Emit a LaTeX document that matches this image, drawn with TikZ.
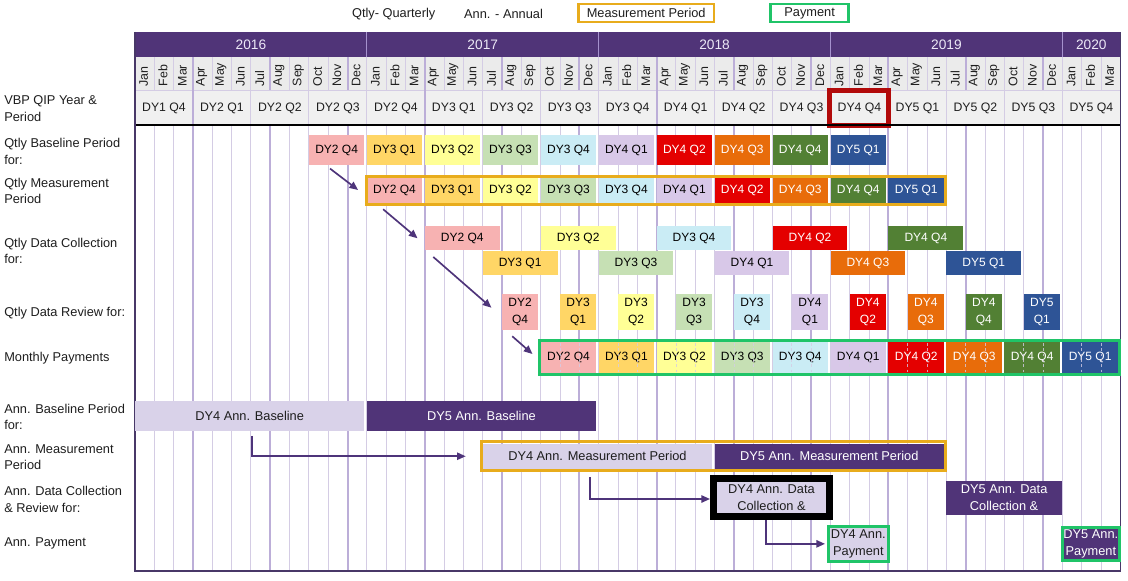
\documentclass[tikz,border=0pt]{standalone}
\usepackage{fontspec}
\setmainfont{Liberation Sans}
\usetikzlibrary{calc,arrows.meta}
\definecolor{hdr}{RGB}{80,52,120}
\definecolor{hdrtext}{RGB}{236,232,246}
\definecolor{yearsep}{RGB}{165,145,205}
\definecolor{monthbg}{RGB}{235,235,235}
\definecolor{vbpbg}{RGB}{240,240,240}
\definecolor{gridc}{RGB}{212,204,228}
\definecolor{gridk}{RGB}{188,174,216}
\definecolor{bordc}{RGB}{72,56,104}
\definecolor{labelc}{RGB}{30,30,30}
\definecolor{arrowc}{RGB}{78,52,122}
\definecolor{goldc}{RGB}{232,172,28}
\definecolor{greenc}{RGB}{32,196,104}
\definecolor{hlc}{RGB}{178,10,10}
\definecolor{annl}{RGB}{217,210,233}
\definecolor{annd}{RGB}{80,52,120}
\definecolor{q24}{RGB}{247,178,178}
\definecolor{q31}{RGB}{255,214,102}
\definecolor{q32}{RGB}{255,255,150}
\definecolor{q33}{RGB}{198,224,180}
\definecolor{q34}{RGB}{202,236,245}
\definecolor{q41}{RGB}{216,200,232}
\definecolor{q42}{RGB}{228,0,0}
\definecolor{q43}{RGB}{232,108,10}
\definecolor{q44}{RGB}{82,128,52}
\definecolor{q51}{RGB}{46,84,150}
\newcommand\boxfont{\fontsize{9}{12.4}\selectfont}
\newcommand\annfont{\fontsize{9.6}{12.5}\selectfont}
\newcommand\lblfont{\fontsize{9.6}{12.5}\selectfont}
\newcommand\vbpfont{\fontsize{9.2}{11}\selectfont}
\newcommand\monfont{\fontsize{9.3}{10}\selectfont}
\newcommand\yrfont{\fontsize{10.3}{12}\selectfont}
\newcommand\mx[1]{135+19.32*(#1)}
% name m1 m2 ytop ybot fill textcolor font text
\newcommand\gbx[9]{%
  \node[rectangle,align=center,inner sep=0pt,fill=#6,text=#7,font=#8,
    minimum width={(19.32*((#3)-(#2))-2.5)*0.75pt},
    minimum height={((#5)-(#4))*0.75pt}]
    (#1) at ({135+19.32*((#2)+(#3))/2-1.25},{((#4)+(#5))/2}) {#9};}
\begin{document}
\begin{tikzpicture}[x=0.75pt,y=-0.75pt,
  lbl/.style={anchor=west,align=left,inner sep=0pt,font=\lblfont,text=labelc},
  arr/.style={draw=arrowc,line width=1.25pt,-{Triangle[length=6.5pt,width=5.5pt]}},
  frame/.style={rectangle,align=center,inner sep=0pt,font=\annfont},
]
\useasboundingbox (0,0) rectangle (1128,581);
\fill[white] (0,0) rectangle (1128,581);

% header fills
\fill[hdr] (135,32) rectangle ({\mx{51}},57);
\fill[monthbg] (135,57) rectangle ({\mx{51}},90);
\fill[vbpbg] (135,90) rectangle ({\mx{51}},125);
\draw[gridc,line width=0.6pt] (135,90) -- ({\mx{51}},90);

% grid lines
\foreach \i in {1,...,50}{
  \pgfmathtruncatemacro\rr{mod(\i,4)}
  \pgfmathtruncatemacro\ss{mod(\i,3)}
  \ifnum\rr=3 \def\gc{gridk}\def\gw{1.5pt}\else\def\gc{gridc}\def\gw{0.75pt}\fi
  \draw[draw=\gc,line width=\gw] ({\mx{\i}},57) -- ({\mx{\i}},90);
  \draw[draw=\gc,line width=\gw] ({\mx{\i}},125) -- ({\mx{\i}},571);
  \ifnum\ss=0 \draw[draw=\gc,line width=\gw] ({\mx{\i}},90) -- ({\mx{\i}},125);\fi
}
\foreach \i in {12,24,36,48}
  \draw[yearsep,line width=0.75pt] ({\mx{\i}},32) -- ({\mx{\i}},57);

% years
\foreach \y/\a/\b in {2016/0/12,2017/12/24,2018/24/36,2019/36/48,2020/48/51}
  \node[font=\yrfont,text=hdrtext,inner sep=0pt] (yr\y) at ({\mx{(\a+\b)/2}},45) {\y};

% months
\foreach \yy in {0,...,4}{
  \foreach \mn [count=\j from 0] in {Jan,Feb,Mar,Apr,May,Jun,Jul,Aug,Sep,Oct,Nov,Dec}{
    \pgfmathtruncatemacro\idx{12*\yy+\j}
    \ifnum\idx<51
      \node[rotate=90,anchor=west,inner sep=0pt,font=\monfont,text=labelc] (mo\idx) at ({\mx{\idx+0.45}},86.5) {\mn};
    \fi
  }}

% VBP row
\foreach \lab [count=\k from 0] in {DY1 Q4,DY2 Q1,DY2 Q2,DY2 Q3,DY2 Q4,DY3 Q1,DY3 Q2,DY3 Q3,DY3 Q4,DY4 Q1,DY4 Q2,DY4 Q3,DY4 Q4,DY5 Q1,DY5 Q2,DY5 Q3,DY5 Q4}
  \node[font=\vbpfont,text=labelc,inner sep=0pt] (v\k) at ({\mx{3*\k+1.5}},108) {\lab};
\draw[hlc,line width=3.75pt] ({\mx{36}-1},90.5) rectangle ({\mx{39}+0.5},125.7);

% borders
\draw[black,line width=0.9pt] (135,125) -- ({\mx{51}},125);
\draw[bordc,line width=0.9pt] (135,32) -- (135,571) -- ({\mx{51}},571) -- ({\mx{51}},32);

% quarterly boxes
\foreach \qc/\tc/\qd/\qq [count=\n from 0] in {q24/black/2/4,q31/black/3/1,q32/black/3/2,q33/black/3/3,q34/black/3/4,q41/black/4/1,q42/white/4/2,q43/white/4/3,q44/white/4/4,q51/white/5/1}{
  \gbx{b\n}{9+3*\n}{12+3*\n}{135}{165}{\qc}{\tc}{\boxfont}{DY\qd\ Q\qq}
  \gbx{m\n}{12+3*\n}{15+3*\n}{178}{203}{\qc}{\tc}{\boxfont}{DY\qd\ Q\qq}
  \pgfmathtruncatemacro\pty{mod(\n,2)}
  \ifnum\pty=0 \def\ya{226}\else\def\ya{251}\fi
  \gbx{c\n}{15+3*\n}{19+3*\n}{\ya}{\ya+24}{\qc}{\tc}{\boxfont}{DY\qd\ Q\qq}
  \gbx{r\n}{19+3*\n}{21+3*\n}{294}{330}{\qc}{\tc}{\boxfont}{DY\qd\\Q\qq}
  \gbx{p\n}{21+3*\n}{24+3*\n}{342}{373}{\qc}{\tc}{\boxfont}{DY\qd\ Q\qq}
}
% dashed grid through payments
\foreach \i in {22,...,50}{
  \pgfmathtruncatemacro\ss{mod(\i,3)}
  \ifnum\ss>0 \draw[gridc,dash pattern=on 2pt off 2pt,line width=0.6pt,opacity=0.8] ({\mx{\i}},343) -- ({\mx{\i}},372);\fi
}
\draw[goldc,line width=2.25pt] (366.5,176.5) rectangle (945.8,204.5);
\draw[greenc,line width=2.25pt] (539.8,340.8) rectangle (1119.2,374.2);

% annual boxes
\gbx{ab4}{0}{12}{401}{431}{annl}{labelc}{\annfont}{DY4 Ann. Baseline}
\gbx{ab5}{12}{24}{401}{431}{annd}{white}{\annfont}{DY5 Ann. Baseline}
\gbx{am4}{18}{30}{443.5}{469}{annl}{labelc}{\annfont}{DY4 Ann. Measurement Period}
\gbx{am5}{30}{42}{443.5}{469}{annd}{white}{\annfont}{DY5 Ann. Measurement Period}
\draw[goldc,line width=2.25pt] (481.8,441.5) rectangle (945.8,470.2);
\node[frame,fill=annl,text=labelc,draw=black,line width=5.25pt,
  minimum width={116*0.75pt},minimum height={38*0.75pt}] (ad4) at (771.5,497.5) {DY4 Ann. Data\\Collection \&};
\gbx{ad5}{42}{48.1}{481}{514.5}{annd}{white}{\annfont}{DY5 Ann. Data\\Collection \&}
\node[frame,fill=annl,text=labelc,draw=greenc,line width=2.25pt,
  minimum width={60.3*0.75pt},minimum height={34.7*0.75pt}] (ap4) at (858.35,543.85) {DY4 Ann.\\Payment};
\node[frame,fill=annd,text=white,draw=greenc,line width=2.25pt,
  minimum width={56.7*0.75pt},minimum height={33.6*0.75pt}] (ap5) at (1090.85,544) {DY5 Ann.\\Payment};

% arrows
\draw[arr] ($(b0.south)+(-6.6,3.3)$) -- ($(m0.west)+(-8.5,-0.5)$);
\draw[arr] ($(m0.south)+(-11.4,6)$) -- ($(c0.west)+(-7,0.3)$);
\draw[arr] ($(c0.south)+(-28.9,6.7)$) -- ($(r0.west)+(-10.4,-4.3)$);
\draw[arr] ($(r0.south)+(-7.9,6)$) -- ($(p0.west)+(-8,-3.5)$);
\draw[arr] ($(ab4.south)+(2,4.7)$) |- ($(am4.west)+(-16.8,0)$);
\draw[arr] ($(am4.south)+(-7.5,8)$) |- ($(ad4.west)+(0,1.5)$);
\draw[arr] ($(ad4.south)+(-5.5,0)$) |- ($(ap4.west)+(-1.7,0)$);

% left labels
\node[lbl] (l0) at (4,108.3) {VBP QIP Year \&\\Period};
\node[lbl] (l1) at (4,151.3) {Qtly Baseline Period\\for:};
\node[lbl] (l2) at (4,191) {Qtly Measurement\\Period};
\node[lbl] (l3) at (4,251) {Qtly Data Collection\\for:};
\node[lbl] (l4) at (4,312.7) {Qtly Data Review for:};
\node[lbl] (l5) at (4,358.3) {Monthly Payments};
\node[lbl] (l6) at (4,417) {Ann. Baseline Period\\for:};
\node[lbl] (l7) at (4,457.3) {Ann. Measurement\\Period};
\node[lbl] (l8) at (4,499.2) {Ann. Data Collection\\\& Review for:};
\node[lbl] (l9) at (4,543.3) {Ann. Payment};

% legend
\node[font=\lblfont,text=labelc,inner sep=0pt] (lq) at (393.7,14) {Qtly- Quarterly};
\node[font=\lblfont,text=labelc,inner sep=0pt] (la) at (503.5,14) {Ann. - Annual};
\node[frame,font=\lblfont,text=labelc,draw=goldc,line width=1.9pt,
  minimum width={135.2*0.75pt},minimum height={18*0.75pt}] (lm) at (646.2,13) {Measurement Period};
\node[frame,font=\lblfont,text=labelc,draw=greenc,line width=1.9pt,
  minimum width={78.1*0.75pt},minimum height={18*0.75pt}] (lp) at (809.65,13) {Payment};
\end{tikzpicture}
\end{document}
